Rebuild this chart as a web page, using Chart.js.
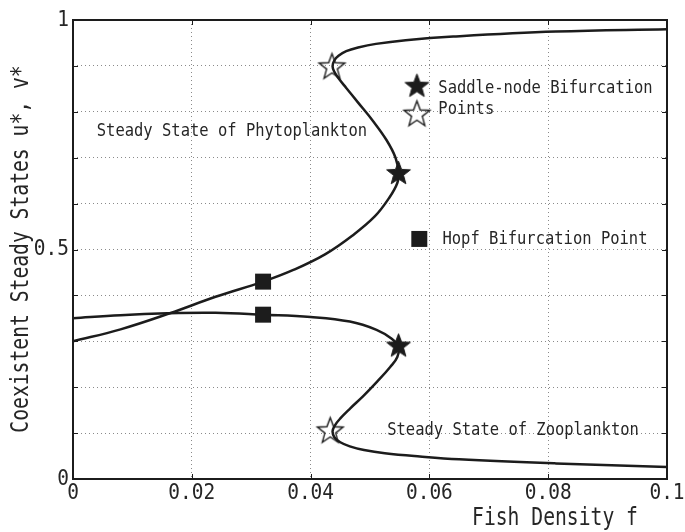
<!DOCTYPE html>
<html>
<head>
<meta charset="utf-8">
<script src="https://cdn.jsdelivr.net/npm/chart.js@4.4.1/dist/chart.umd.min.js"></script>
<style>
    html, body { margin: 0; padding: 0; background: #fff; }
    #wrap { width: 685px; height: 532px; }
</style>
</head>
<body>
<div id="wrap"><canvas id="chart" width="685" height="532"></canvas></div>
<script>
// Steady state of phytoplankton u* against fish density f
const phytoF = [0, 0.008, 0.0163, 0.024, 0.032, 0.0372, 0.0425, 0.0470, 0.0508, 0.0532, 0.0546,
    0.0548, 0.0543, 0.0528, 0.0505, 0.0480, 0.0460, 0.0447, 0.0440, 0.0437, 0.0440, 0.0447,
    0.0460, 0.0480, 0.0510, 0.0560, 0.0640, 0.0813, 0.1];
const phytoU = [0.300, 0.326, 0.361, 0.397, 0.430, 0.456, 0.490, 0.530, 0.572, 0.612, 0.645,
    0.668, 0.700, 0.738, 0.780, 0.820, 0.852, 0.873, 0.887, 0.899, 0.912, 0.922,
    0.932, 0.940, 0.948, 0.956, 0.964, 0.975, 0.980];

// Steady state of zooplankton v*
const zooF = [0, 0.008, 0.0158, 0.024, 0.032, 0.040, 0.0466, 0.0511, 0.0536, 0.0548, 0.0546,
    0.0534, 0.0512, 0.0489, 0.0466, 0.0450, 0.0441, 0.0437, 0.0440, 0.0450, 0.0466, 0.0490,
    0.0525, 0.0584, 0.0650, 0.0813, 0.1];
const zooV = [0.350, 0.357, 0.361, 0.362, 0.358, 0.353, 0.343, 0.325, 0.306, 0.288, 0.266,
    0.244, 0.212, 0.181, 0.153, 0.132, 0.117, 0.104, 0.091, 0.080, 0.071, 0.063,
    0.056, 0.049, 0.043, 0.034, 0.026];

// bifurcation points
const saddleF = [0.0548, 0.0548];
const saddleY = [0.668, 0.292];
const limitF = [0.0436, 0.0433];
const limitY = [0.900, 0.107];
const hopfF = [0.032, 0.032];
const hopfY = [0.430, 0.358];

// key markers next to the notes
const keySaddle = { f: 0.0579, y: 0.858 };
const keyLimit = { f: 0.0579, y: 0.797 };
const keyHopf = { f: 0.0583, y: 0.523 };

const xTickLabels = ['0', '0.02', '0.04', '0.06', '0.08', '0.1'];
const yTickLabels = ['0', '', '', '', '', '0.5', '', '', '', '', '1'];
const xTitle = 'Fish Density f';
const yTitle = 'Coexistent Steady States u*, v*';

const notes = [
    { text: 'Steady State of Phytoplankton', f: 0.004, y: 0.758 },
    { text: 'Saddle-node Bifurcation', f: 0.0615, y: 0.851 },
    { text: 'Points', f: 0.0615, y: 0.805 },
    { text: 'Hopf Bifurcation Point', f: 0.0622, y: 0.523 },
    { text: 'Steady State of Zooplankton', f: 0.0529, y: 0.107 }
];

const ink = '#1c1c1c';

function toPoints(xs, ys) {
    return xs.map((v, i) => ({ x: v, y: ys[i] }));
}

// five point star drawn once on a small canvas, used as pointStyle
function makeStar(R, filled) {
    const size = Math.ceil(2 * R + 4);
    const c = document.createElement('canvas');
    c.width = size;
    c.height = size;
    const g = c.getContext('2d');
    const cx = size / 2, cy = size / 2 + R * 0.1;
    const r = R * 0.42;
    g.beginPath();
    for (let i = 0; i < 10; i++) {
        const a = -Math.PI / 2 + i * Math.PI / 5;
        const rad = i % 2 === 0 ? R : r;
        const px = cx + rad * Math.cos(a), py = cy + rad * Math.sin(a);
        if (i === 0) g.moveTo(px, py); else g.lineTo(px, py);
    }
    g.closePath();
    g.lineJoin = 'miter';
    g.strokeStyle = ink;
    if (filled) {
        g.fillStyle = ink;
        g.fill();
        g.lineWidth = 1;
    } else {
        g.lineWidth = 1.4;
    }
    g.stroke();
    return c;
}

const filledStar = makeStar(12.5, true);
const openStar = makeStar(13.5, false);

// narrow monospace text, close to the figure's font
function squeezeText(ctx, text, x, y, size, sx, align, angle) {
    ctx.save();
    ctx.translate(x, y);
    if (angle) ctx.rotate(angle);
    ctx.scale(sx, 1);
    ctx.font = size + 'px "DejaVu Sans Mono"';
    ctx.textAlign = align;
    ctx.textBaseline = 'middle';
    ctx.fillStyle = '#262626';
    ctx.fillText(text, 0, 0);
    ctx.restore();
}

const framePlugin = {
    id: 'frame',
    afterDraw(chart) {
        const { ctx, chartArea: a, scales: { x, y } } = chart;
        ctx.save();

        // inward tick marks on all four sides
        ctx.strokeStyle = ink;
        ctx.lineWidth = 1;
        ctx.beginPath();
        x.ticks.forEach(t => {
            const px = Math.round(x.getPixelForValue(t.value)) + 0.5;
            ctx.moveTo(px, a.bottom); ctx.lineTo(px, a.bottom - 5);
            ctx.moveTo(px, a.top); ctx.lineTo(px, a.top + 5);
        });
        y.ticks.forEach(t => {
            const py = Math.round(y.getPixelForValue(t.value)) + 0.5;
            ctx.moveTo(a.left, py); ctx.lineTo(a.left + 5, py);
            ctx.moveTo(a.right, py); ctx.lineTo(a.right - 5, py);
        });
        ctx.stroke();

        // box
        ctx.lineWidth = 2;
        ctx.strokeRect(a.left, a.top, a.right - a.left, a.bottom - a.top);

        // tick labels
        x.ticks.forEach((t, i) => {
            squeezeText(ctx, xTickLabels[i] || '', x.getPixelForValue(t.value), a.bottom + 14, 22, 0.885, 'center');
        });
        y.ticks.forEach((t, i) => {
            squeezeText(ctx, yTickLabels[i] || '', a.left - 4, y.getPixelForValue(t.value), 22, 0.885, 'right');
        });

        // axis titles
        squeezeText(ctx, xTitle, 555, 519, 24, 0.82, 'center');
        squeezeText(ctx, yTitle, 22, 249, 24, 0.82, 'center', -Math.PI / 2);

        // notes inside the plot
        notes.forEach(n => {
            squeezeText(ctx, n.text, x.getPixelForValue(n.f), y.getPixelForValue(n.y), 18, 0.86, 'left');
        });

        ctx.restore();
    }
};

const curveStyle = {
    borderColor: ink,
    borderWidth: 2.5,
    pointRadius: 0,
    tension: 0.4,
    fill: false,
    order: 2
};

new Chart(document.getElementById('chart'), {
    type: 'line',
    data: {
        datasets: [
            {
                label: 'Saddle-node',
                data: toPoints(saddleF, saddleY).concat([{ x: keySaddle.f, y: keySaddle.y }]),
                showLine: false,
                pointStyle: filledStar,
                order: 0
            },
            {
                label: 'Limit points',
                data: toPoints(limitF, limitY).concat([{ x: keyLimit.f, y: keyLimit.y }]),
                showLine: false,
                pointStyle: openStar,
                order: 0
            },
            {
                label: 'Hopf',
                data: toPoints(hopfF, hopfY).concat([{ x: keyHopf.f, y: keyHopf.y }]),
                showLine: false,
                pointStyle: 'rect',
                pointRadius: 11.3,
                pointBackgroundColor: ink,
                pointBorderWidth: 0,
                order: 0
            },
            Object.assign({ label: 'Phytoplankton', data: toPoints(phytoF, phytoU) }, curveStyle),
            Object.assign({ label: 'Zooplankton', data: toPoints(zooF, zooV) }, curveStyle)
        ]
    },
    options: {
        responsive: false,
        animation: false,
        layout: { padding: { left: 73, right: 18, top: 20, bottom: 53 } },
        plugins: {
            legend: { display: false },
            tooltip: { enabled: false }
        },
        scales: {
            x: {
                type: 'linear',
                min: 0,
                max: 0.1,
                ticks: { display: false, stepSize: 0.02 },
                grid: { color: '#8a8a8a', lineWidth: 1, drawTicks: false },
                border: { display: false, dash: [1, 3] },
                afterFit(scale) { scale.height = 0; }
            },
            y: {
                type: 'linear',
                min: 0,
                max: 1,
                ticks: { display: false, stepSize: 0.1 },
                grid: { color: '#8a8a8a', lineWidth: 1, drawTicks: false },
                border: { display: false, dash: [1, 3] },
                afterFit(scale) { scale.width = 0; }
            }
        }
    },
    plugins: [framePlugin]
});
</script>
</body>
</html>
